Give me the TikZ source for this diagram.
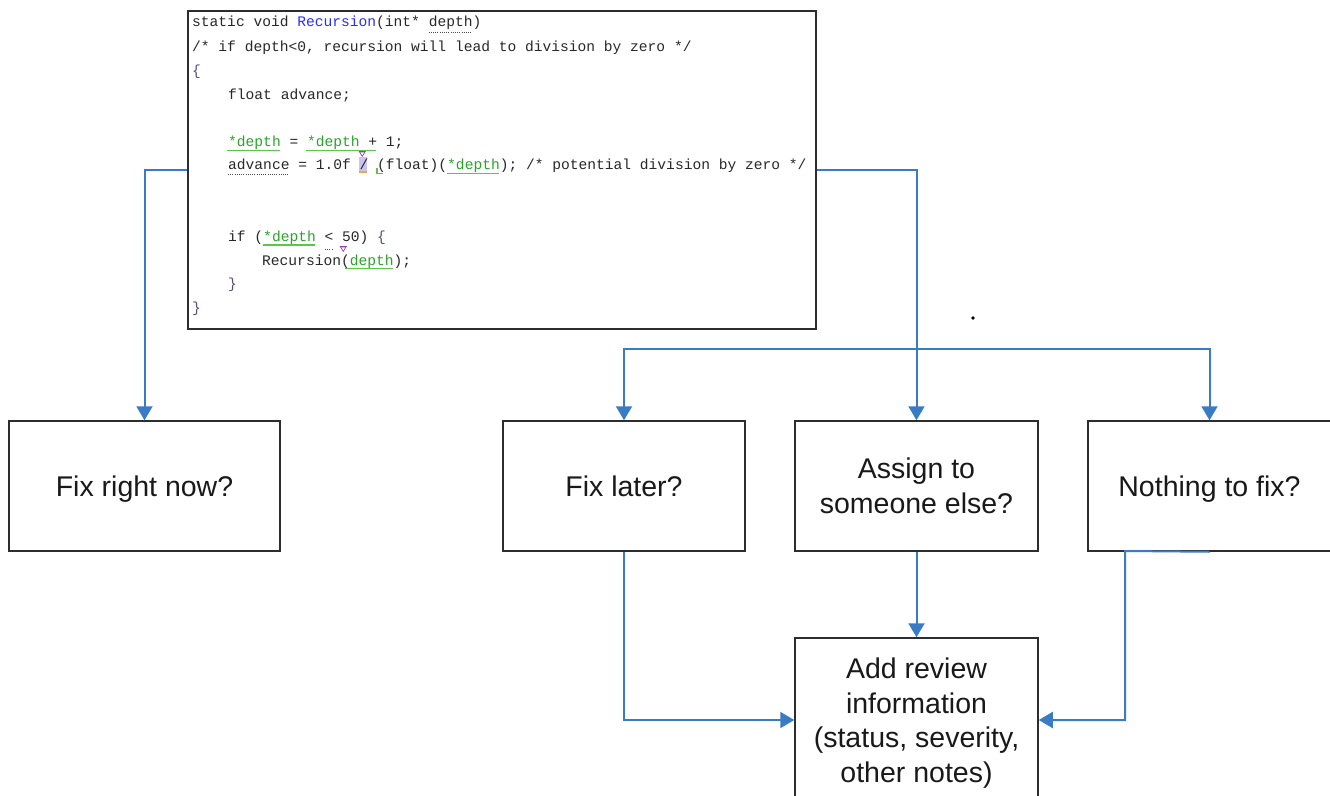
\documentclass[tikz,border=0pt]{standalone}
\usepackage{fontspec}
\setmainfont{Liberation Sans}
\setmonofont{Liberation Mono}
\usetikzlibrary{arrows.meta}
\definecolor{flow}{RGB}{58,124,196}
\definecolor{boxline}{RGB}{45,45,45}
\definecolor{codetext}{RGB}{40,40,40}
\definecolor{codeblue}{RGB}{45,45,250}
\definecolor{codegreen}{RGB}{40,165,40}
\definecolor{ulgreen}{RGB}{90,200,70}
\definecolor{codebrace}{RGB}{95,75,115}
\definecolor{markpurple}{RGB}{150,60,210}
\definecolor{hlpurple}{RGB}{205,195,240}
\definecolor{hlorange}{RGB}{240,165,80}
\begin{document}
\begin{tikzpicture}[x=1pt,y=-1pt,
  box/.style={draw=boxline,line width=1.5pt,minimum width=243pt,minimum height=130pt,inner sep=0pt,font=\fontsize{28.5}{34.5}\selectfont,text=black!90},
  multi/.style={align=center},
  codeline/.style={anchor=base west,inner sep=0pt,font=\ttfamily\fontsize{14.6}{17}\selectfont,text=codetext},
  conn/.style={draw=flow,line width=2pt},
  arr/.style={conn,-{Triangle[length=14pt,width=16pt]}},
  gul/.style={draw=ulgreen,line width=1.3pt},
  dul/.style={draw=black!70,line width=1pt,dash pattern=on 1pt off 1.2pt},
]
\useasboundingbox (0,0) rectangle (1330,795);
\clip (0,0) rectangle (1330,795);
\fill[white] (0,0) rectangle (1330,795);

% code box
\node[draw=boxline,line width=1.8pt,minimum width=628pt,minimum height=318pt,inner sep=0pt] (code) at (502,170) {};

% highlight behind the division sign
\fill[hlpurple] (358.5,157) rectangle (367,172);
\draw[hlorange,line width=1.5pt] (358.5,172) -- (367,172);

\node[codeline] (c1) at (192,27) {static void \textcolor{codeblue}{Recursion}(int* depth)};
\node[codeline] (c2) at (192,51) {/* if depth<0, recursion will lead to division by zero */};
\node[codeline] (c3) at (192,75) {\textcolor{codebrace}{\{}};
\node[codeline] (c4) at (228,99) {float advance;};
\node[codeline] (c5) at (228,146) {\textcolor{codegreen}{*depth} = \textcolor{codegreen}{*depth} + 1;};
\node[codeline] (c6) at (228,169) {advance = 1.0f / (float)(\textcolor{codegreen}{*depth}); /* potential division by zero */};
\node[codeline] (c7) at (228,241) {if (\textcolor{codegreen}{*depth} < 50) \textcolor{codebrace}{\{}};
\node[codeline] (c8) at (262,265) {Recursion(\textcolor{codegreen}{depth});};
\node[codeline] (c9) at (228,288) {\textcolor{codebrace}{\}}};
\node[codeline] (c10) at (192,312) {\textcolor{codebrace}{\}}};

% code decorations
\draw[dul] (428.5,32) -- (472,32);
\draw[gul] (227,150.5) -- (280,150.5);
\draw[gul] (306,150.5) -- (376,150.5);
\draw[dul] (228,174) -- (289,174);
\draw[gul] (447,173.5) -- (499,173.5);
\draw[gul] (377,173.5) -- (383,173.5) (377,173.5) -- (377,168);
\draw[gul] (263,245) -- (315,245);
\draw[dul] (325,249.5) -- (333,249.5);
\draw[gul] (349.5,268.5) -- (393,268.5);
\draw[gul] (345,268.5) -- (349.5,268.5);
\fill[markpurple] (358.5,151) -- (366,151) -- (362.25,157) -- cycle;
\fill[white] (360.3,152.3) -- (364.2,152.3) -- (362.25,155.3) -- cycle;
\fill[markpurple] (339.5,246) -- (347,246) -- (343.25,252) -- cycle;
\fill[white] (341.3,247.3) -- (345.2,247.3) -- (343.25,250.3) -- cycle;

% stray dot
\fill[black] (973,318) circle (1.8);

% decision boxes
\node[box,minimum width=271pt,text depth=0pt] (fixnow) at (144.5,486) {Fix right now?};
\node[box,minimum width=242pt,text depth=0pt] (fixlater) at (624,486) {Fix later?};
\node[box,multi] (assign) at (916.5,486) {Assign to\\someone else?};
\node[box,text depth=0pt] (nothing) at (1209.5,486) {Nothing to fix?};
\node[box,multi,minimum height=164pt] (review) at (916.5,720) {\rule{0pt}{27pt}Add review\\information\\(status, severity,\\other notes)};

\coordinate (branch) at (917,349);
\coordinate (nb) at (1125,551);

% connectors
\draw[arr] (code.west) -| (fixnow.north);
\draw[arr] (code.east) -| (assign.north);
\draw[arr] (branch) -| (fixlater.north);
\draw[arr] (branch) -| (nothing.north);
\draw[arr] (fixlater.south) |- (review.west);
\draw[arr] (assign.south) -- (review.north);
\draw[arr] (nothing.south) -- (nb) |- (review.east);
\end{tikzpicture}
\end{document}
